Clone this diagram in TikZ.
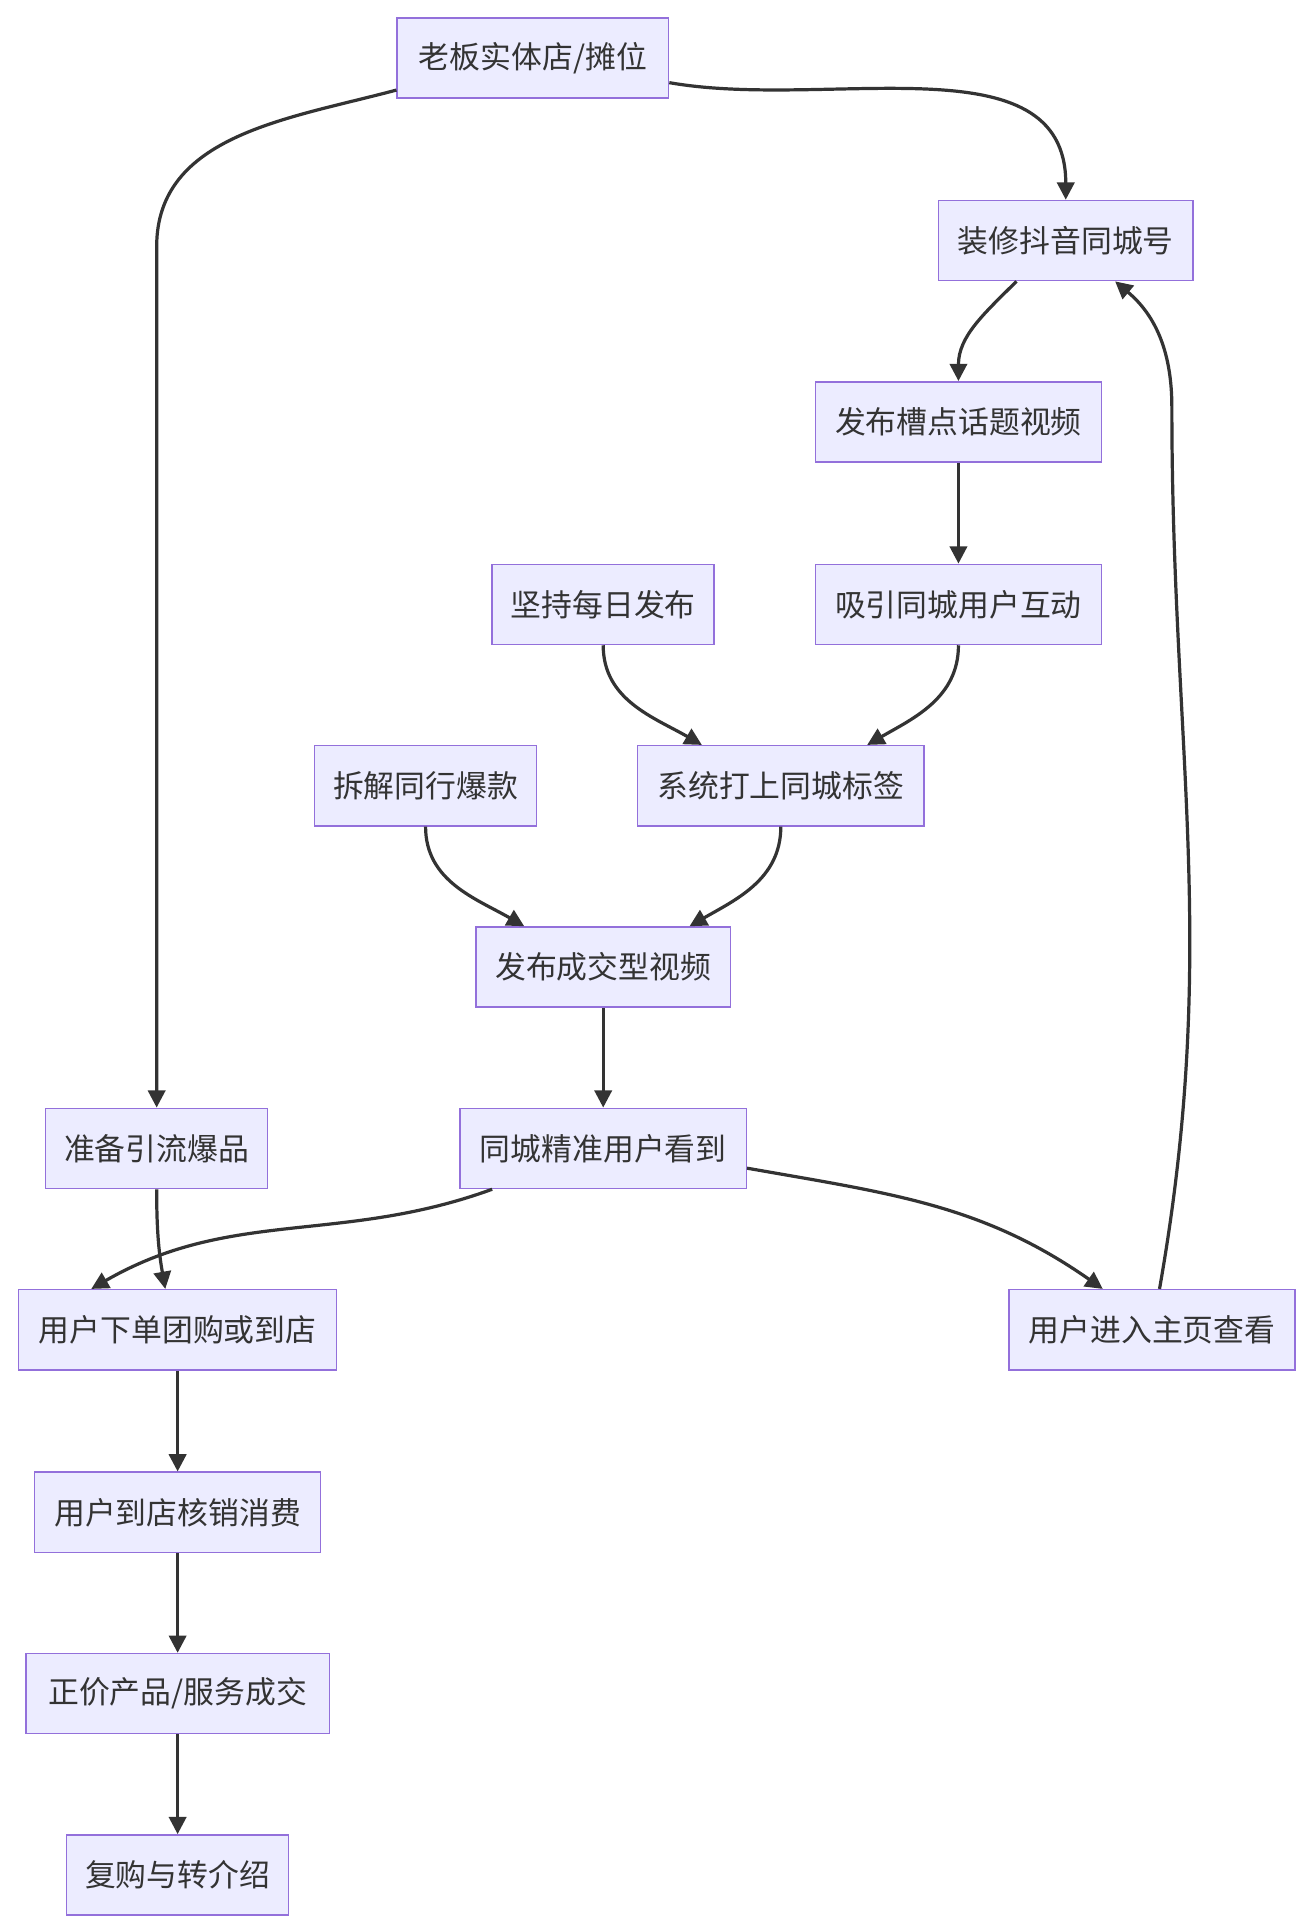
\documentclass[tikz,border=0pt]{standalone}
\usepackage{fontspec}
\setmainfont{Noto Sans CJK SC}
\usetikzlibrary{arrows.meta}
\definecolor{nf}{HTML}{ECECFF}
\definecolor{nb}{HTML}{9370DB}
\definecolor{ln}{HTML}{333333}
\begin{document}
\begin{tikzpicture}[x=0.5pt,y=-0.5pt,
 box/.style={draw=nb,fill=nf,line width=0.6pt,minimum height=32.5pt,inner sep=0pt,font=\fontsize{12.5pt}{14pt}\selectfont,text=ln},
 e/.style={draw=ln,line width=1.3pt,-{Triangle[length=7pt,width=7pt]}}]
\useasboundingbox[fill=white] (0,0) rectangle (1060,1563);
\node[box,minimum width=110pt] (A) at (432,47) {老板实体店/摊位};
\node[box,minimum width=103pt] (B) at (864,195) {装修抖音同城号};
\node[box,minimum width=116pt] (C) at (777,342) {发布槽点话题视频};
\node[box,minimum width=116pt] (D) at (777,490) {吸引同城用户互动};
\node[box,minimum width=90pt] (E) at (489,490) {坚持每日发布};
\node[box,minimum width=116pt] (F) at (633,637) {系统打上同城标签};
\node[box,minimum width=90pt] (G) at (345,637) {拆解同行爆款};
\node[box,minimum width=103pt] (H) at (489,784) {发布成交型视频};
\node[box,minimum width=116pt] (I) at (489,931) {同城精准用户看到};
\node[box,minimum width=90pt] (J) at (127,931) {准备引流爆品};
\node[box,minimum width=129pt] (K) at (144,1078) {用户下单团购或到店};
\node[box,minimum width=116pt] (L) at (934,1078) {用户进入主页查看};
\node[box,minimum width=116pt] (M) at (144,1226) {用户到店核销消费};
\node[box,minimum width=123pt] (N) at (144,1373) {正价产品/服务成交};
\node[box,minimum width=90pt] (O) at (144,1520) {复购与转介绍};
\coordinate (a1) at (127,200);
\coordinate (l1) at (950,330);
\draw[e] ([yshift=-10pt]A.east) to[out=-10,in=90] (B.north);
\draw[e] ([yshift=-13pt]A.west) to[out=195,in=90] (a1) -- (J.north);
\draw[e] ([xshift=-20pt]B.south) to[out=-135,in=90] (C.north);
\draw[e] (C) -- (D);
\draw[e] (D.south) to[out=-90,in=30] ([xshift=35pt]F.north);
\draw[e] (E.south) to[out=-90,in=150] ([xshift=-32pt]F.north);
\draw[e] (G.south) to[out=-90,in=150] ([xshift=-32pt]H.north);
\draw[e] (F.south) to[out=-90,in=30] ([xshift=35pt]H.north);
\draw[e] (H) -- (I);
\draw[e] ([xshift=-45pt]I.south) to[out=200,in=30] ([xshift=-35pt]K.north);
\draw[e] ([yshift=-8pt]I.east) to[out=-10,in=145] ([xshift=-20pt]L.north);
\draw[e] (J.south) to[out=-90,in=100] ([xshift=-5pt]K.north);
\draw[e] (K) -- (M);
\draw[e] (M) -- (N);
\draw[e] (N) -- (O);
\draw[e] ([xshift=3pt]L.north) to[out=80,in=-90] (l1) to[out=90,in=-40] ([xshift=20pt]B.south);
\end{tikzpicture}
\end{document}
